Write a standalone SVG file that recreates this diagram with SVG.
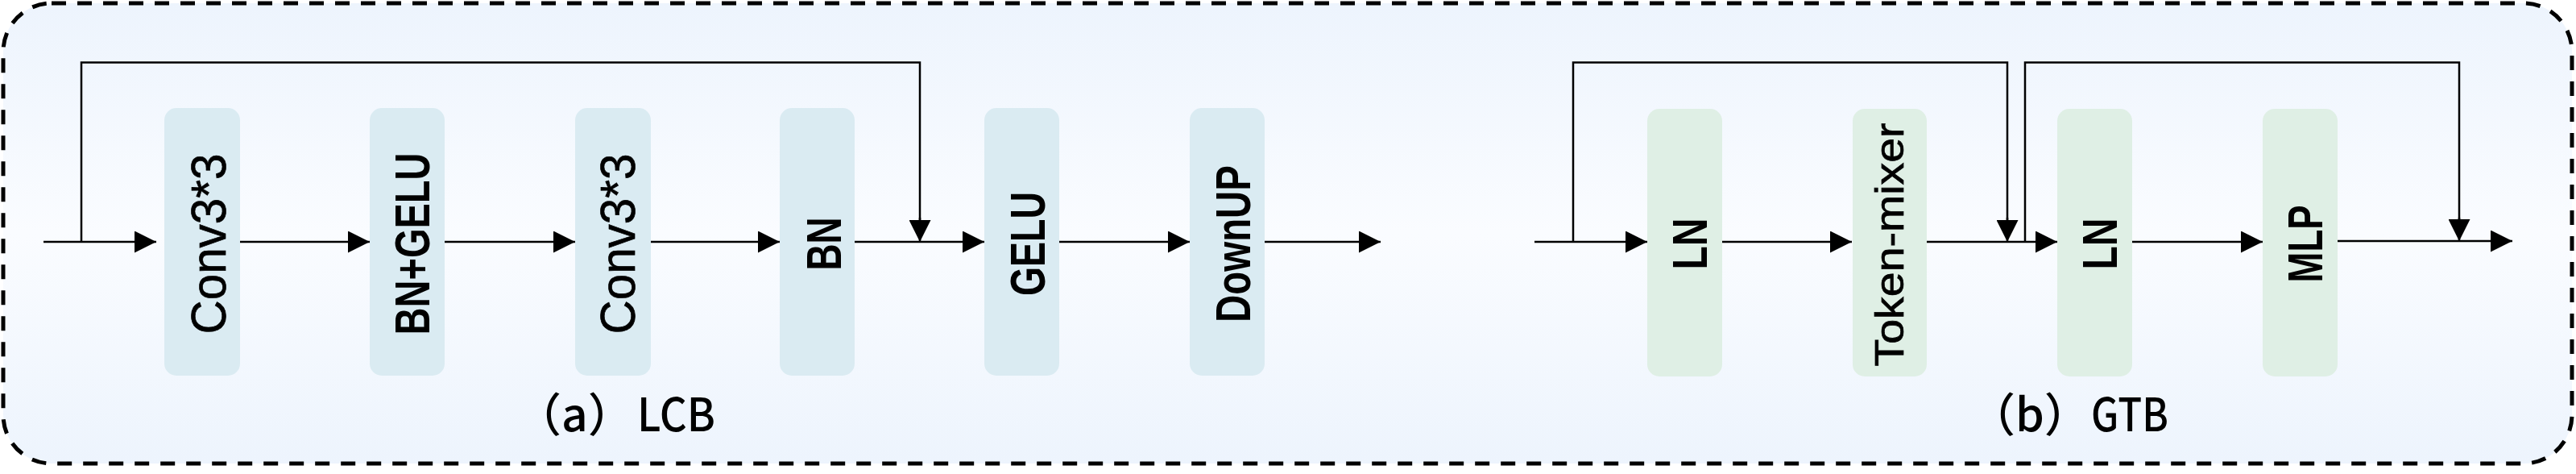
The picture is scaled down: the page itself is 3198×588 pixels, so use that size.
<svg xmlns="http://www.w3.org/2000/svg" width="3198" height="588" viewBox="0 0 3198 588">
<defs>
<linearGradient id="bg" x1="0" y1="0" x2="0" y2="1">
<stop offset="0" stop-color="#EDF4FD"/>
<stop offset="0.5" stop-color="#FAFCFF"/>
<stop offset="1" stop-color="#EDF4FD"/>
</linearGradient>
<marker id="ah" markerUnits="userSpaceOnUse" markerWidth="27" markerHeight="27" refX="27" refY="13.5" orient="auto" viewBox="0 0 27 27">
<path d="M0,0 L27,13.5 L0,27 Z" fill="#000"/>
</marker>
<style>
.lcb{fill:#DAEBF2}
.gtb{fill:#DFEFE5}
.ln{fill:none;stroke:#000;stroke-width:2.5;marker-end:url(#ah)}
.sk{fill:none;stroke:#000;stroke-width:2.5}
.t{font-family:"Liberation Sans",Arial,sans-serif;font-size:62px;text-anchor:middle;fill:#000}
.r{stroke:#000;stroke-width:0.7}
.b{font-weight:bold}
.cap{font-family:"Noto Sans CJK SC","Liberation Sans",sans-serif;font-size:57px;font-weight:500;fill:#000}
</style>
</defs>
<rect id="frame" x="4" y="4" width="3189" height="571" rx="60" ry="60" fill="url(#bg)" stroke="#000" stroke-width="5" stroke-dasharray="18 14"/>

<g id="connectors">
<path class="ln" d="M54,300 H194"/>
<path class="sk" d="M101,300 V77.5 H1142 V290"/>
<path class="ln" d="M1142,270 V300"/>
<path class="ln" d="M298,300 H459"/>
<path class="ln" d="M552,300 H714"/>
<path class="ln" d="M808,300 H968"/>
<path class="ln" d="M1061,300 H1222"/>
<path class="ln" d="M1315,300 H1477"/>
<path class="ln" d="M1570,300 H1714"/>

<path class="ln" d="M1905,300 H2045"/>
<path class="sk" d="M1953,300 V77.5 H2492 V290"/>
<path class="ln" d="M2492,270 V300"/>
<path class="ln" d="M2138,300 H2299"/>
<path class="ln" d="M2392,300 H2554"/>
<path class="sk" d="M2514,300 V77.5 H3053 V290"/>
<path class="ln" d="M3053,270 V299"/>
<path class="ln" d="M2647,300 H2809"/>
<path class="ln" d="M2902,299 H3119"/>
</g>

<g id="conv1"><rect class="lcb" x="204" y="134" width="94" height="332" rx="15"/>
<text class="t r" transform="translate(280,302.5) rotate(-90)" textLength="224" lengthAdjust="spacingAndGlyphs">Conv3*3</text></g>
<g id="bngelu"><rect class="lcb" x="459" y="134" width="93" height="332" rx="15"/>
<text class="t b" transform="translate(533,302.5) rotate(-90)" textLength="226" lengthAdjust="spacingAndGlyphs">BN+GELU</text></g>
<g id="conv2"><rect class="lcb" x="714" y="134" width="94" height="332" rx="15"/>
<text class="t r" transform="translate(788,302.5) rotate(-90)" textLength="224" lengthAdjust="spacingAndGlyphs">Conv3*3</text></g>
<g id="bn"><rect class="lcb" x="968" y="134" width="93" height="332" rx="15"/>
<text class="t b" transform="translate(1044,302.5) rotate(-90)" textLength="66" lengthAdjust="spacingAndGlyphs">BN</text></g>
<g id="gelu"><rect class="lcb" x="1222" y="134" width="93" height="332" rx="15"/>
<text class="t b" transform="translate(1297,302.5) rotate(-90)" textLength="129" lengthAdjust="spacingAndGlyphs">GELU</text></g>
<g id="downup"><rect class="lcb" x="1477" y="134" width="93" height="332" rx="15"/>
<text class="t b" transform="translate(1552,302.5) rotate(-90)" textLength="195" lengthAdjust="spacingAndGlyphs">DownUP</text></g>

<g id="ln1"><rect class="gtb" x="2045" y="135" width="93" height="332" rx="15"/>
<text class="t b" transform="translate(2119,302.5) rotate(-90)" textLength="64" lengthAdjust="spacingAndGlyphs">LN</text></g>
<g id="tokenmixer"><rect class="gtb" x="2300" y="135" width="92" height="332" rx="15"/>
<text class="t r" style="font-size:50px" transform="translate(2363,303.5) rotate(-90)" textLength="302" lengthAdjust="spacingAndGlyphs">Token-mixer</text></g>
<g id="ln2"><rect class="gtb" x="2554" y="135" width="93" height="332" rx="15"/>
<text class="t b" transform="translate(2628,302.5) rotate(-90)" textLength="64" lengthAdjust="spacingAndGlyphs">LN</text></g>
<g id="mlp"><rect class="gtb" x="2809" y="135" width="93" height="332" rx="15"/>
<text class="t b" transform="translate(2883,302.5) rotate(-90)" textLength="96" lengthAdjust="spacingAndGlyphs">MLP</text></g>

<g id="captions">
<text class="cap" y="535"><tspan x="640">（</tspan>a）<tspan x="791" textLength="97" lengthAdjust="spacingAndGlyphs">LCB</tspan></text>
<text class="cap" y="535"><tspan x="2445">（</tspan>b）<tspan x="2596" textLength="96" lengthAdjust="spacingAndGlyphs">GTB</tspan></text>
</g>
</svg>
